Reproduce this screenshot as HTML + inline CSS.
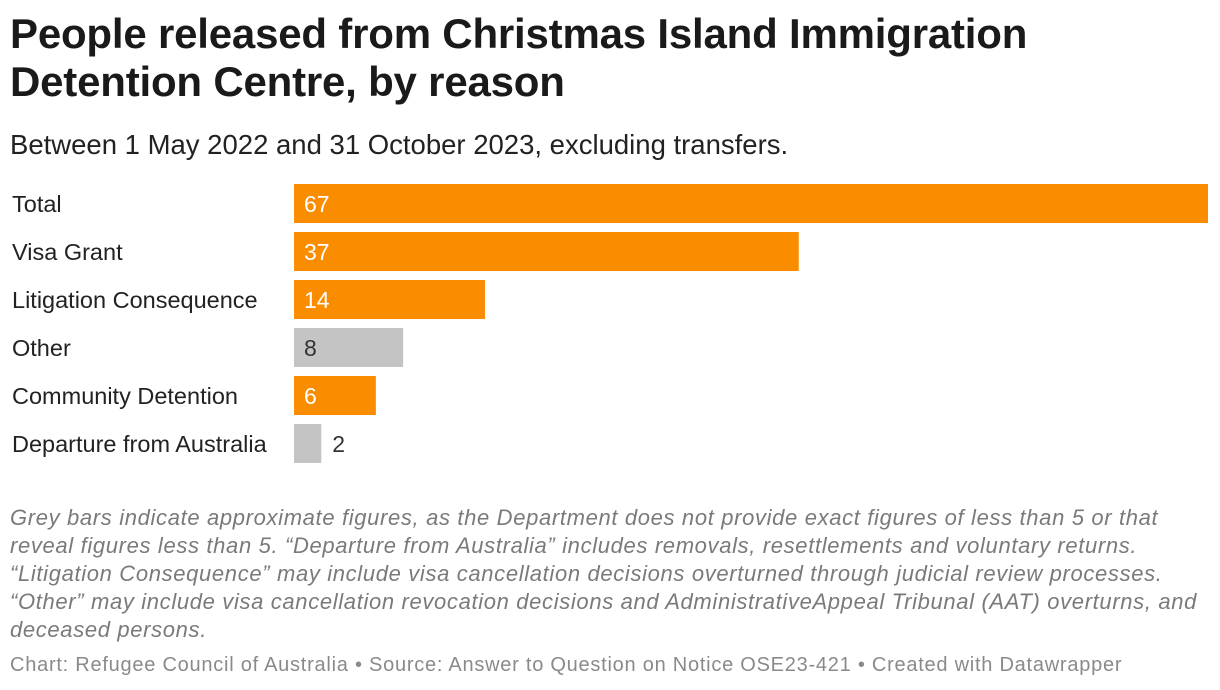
<!DOCTYPE html>
<html><head><meta charset="utf-8"><style>
body{margin:0;width:1220px;height:690px;background:#fff;font-family:"Liberation Sans",Roboto,sans-serif;position:relative;overflow:hidden;color:#222}
.t{position:absolute;left:10px;top:10px;font-size:42px;font-weight:bold;line-height:48px;color:#1a1a1a;letter-spacing:-0.2px}
.s{position:absolute;left:10px;top:129px;font-size:27.5px;color:#222}
.n{position:absolute;left:10px;top:504px;font-size:22px;font-style:italic;color:#7a7a7a;line-height:28px;white-space:nowrap;letter-spacing:0.65px}
.f{position:absolute;left:10px;top:654px;font-size:20px;color:#8a8a8a;letter-spacing:0.75px}
</style></head><body>
<div class="t">People released from Christmas Island Immigration<br>Detention Centre, by reason</div>
<div class="s">Between 1 May 2022 and 31 October 2023, excluding transfers.</div>
<svg id="c" width="1220" height="690" style="position:absolute;left:0;top:0"></svg>
<div class="n">Grey bars indicate approximate figures, as the Department does not provide exact figures of less than 5 or that<br>reveal figures less than 5. “Departure from Australia” includes removals, resettlements and voluntary returns.<br>“Litigation Consequence” may include visa cancellation decisions overturned through judicial review processes.<br>“Other” may include visa cancellation revocation decisions and AdministrativeAppeal Tribunal (AAT) overturns, and<br>deceased persons.</div>
<div class="f">Chart: Refugee Council of Australia • Source: Answer to Question on Notice OSE23-421 • Created with Datawrapper</div>
<script>
const categories=["Total","Visa Grant","Litigation Consequence","Other","Community Detention","Departure from Australia"];
const values=[67,37,14,8,6,2];
const approximate=[false,false,false,true,false,true];
const svg=document.getElementById('c');
const NS="http://www.w3.org/2000/svg";
const x0=294,x1=1208,max=67;
const x=v=>x0+(x1-x0)*v/max;
const y=i=>184+48*i;
categories.forEach((c,i)=>{
 const l=document.createElementNS(NS,'text');
 
 
 l.setAttribute('x',12);l.setAttribute('y',y(i)+28);l.setAttribute('font-size','23.5');l.setAttribute('fill','#222');
 l.textContent=c;svg.appendChild(l);
 const r=document.createElementNS(NS,'rect');
 
 
 const w=x(values[i])-x0;
 r.setAttribute('x',x0);r.setAttribute('y',y(i));r.setAttribute('width',w);r.setAttribute('height',39);
 r.setAttribute('fill',approximate[i]?'#c4c4c4':'#fa8c00');svg.appendChild(r);
 const v=document.createElementNS(NS,'text');
 
 
 const inside=w>30;
 v.setAttribute('x',inside?x0+10:x(values[i])+11);v.setAttribute('y',y(i)+28);v.setAttribute('font-size','23');
 v.setAttribute('fill',approximate[i]?'#333':(inside?'#fff':'#333'));
 v.textContent=values[i];svg.appendChild(v);
});
</script>
</body></html>
